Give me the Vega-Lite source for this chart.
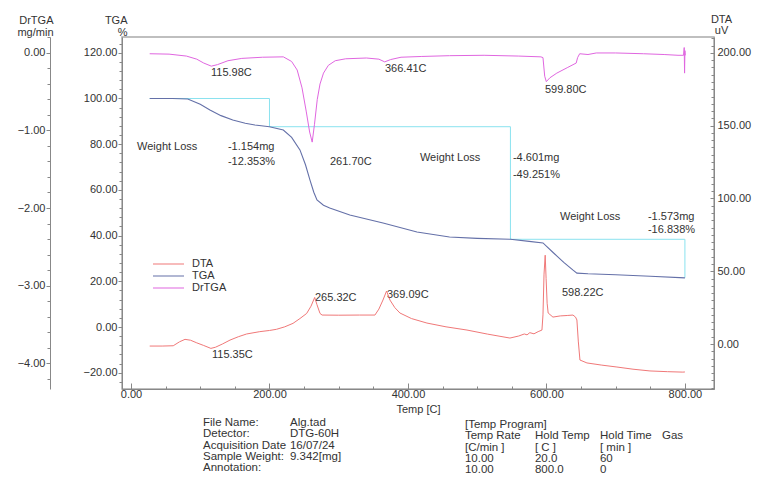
{
  "$schema": "https://vega.github.io/schema/vega-lite/v6.json",
  "width": 592,
  "height": 352,
  "autosize": {"type": "none"},
  "padding": {"left": 122, "top": 37, "right": 44, "bottom": 89},
  "background": "white",
  "config": {
    "font": "Liberation Sans",
    "view": {"stroke": "#aaaaaa", "strokeWidth": 1.5},
    "axis": {"grid": false, "domainColor": "#888888", "tickColor": "#888888", "labelColor": "#333333", "labelFontSize": 11, "labelFont": "Liberation Sans", "titleFont": "Liberation Sans", "titleFontSize": 11, "titleFontWeight": "normal", "titleColor": "#333333"},
    "text": {"font": "Liberation Sans"}
  },
  "datasets": {
    "tga": [
      {"t":27,"p":100},{"t":60,"p":100},{"t":82,"p":99.8},{"t":100,"p":97.5},{"t":114,"p":95},{"t":130,"p":92.5},{"t":147,"p":90.6},{"t":165,"p":89.2},{"t":179,"p":88.4},{"t":200,"p":87.6},{"t":220,"p":86.2},{"t":232,"p":83},{"t":244,"p":77.5},{"t":252,"p":71},{"t":258.5,"p":64.3},{"t":264,"p":59},{"t":268.6,"p":55.6},{"t":278,"p":53.3},{"t":287,"p":52.1},{"t":316,"p":49},{"t":364,"p":45.5},{"t":413,"p":41.6},{"t":460,"p":39.4},{"t":500,"p":38.8},{"t":548,"p":38.4},{"t":575,"p":37.5},{"t":595,"p":36.8},{"t":610,"p":32.5},{"t":625,"p":28.3},{"t":638,"p":25},{"t":644,"p":23.6},{"t":660,"p":23.3},{"t":700,"p":22.9},{"t":750,"p":22.2},{"t":800,"p":21.5}
    ],
    "steps": [
      {"seq":1,"t":27,"p":100},{"seq":2,"t":200,"p":100},{"seq":3,"t":200,"p":87.65},{"seq":4,"t":548,"p":87.65},{"seq":5,"t":548,"p":38.4},{"seq":6,"t":800,"p":38.4},{"seq":7,"t":800,"p":21.56}
    ],
    "dta": [
      {"t":27,"v":-1.4},{"t":45,"v":-1.4},{"t":61,"v":-1.2},{"t":70,"v":1.5},{"t":78,"v":3.2},{"t":86,"v":2.6},{"t":95,"v":0.8},{"t":105,"v":-1},{"t":115.35,"v":-3},{"t":122,"v":-2.2},{"t":132,"v":0},{"t":143,"v":2.7},{"t":155,"v":5},{"t":167,"v":6.9},{"t":186,"v":8.5},{"t":200,"v":9.3},{"t":210,"v":10.1},{"t":222,"v":11.8},{"t":234,"v":14.2},{"t":244,"v":17.5},{"t":253.7,"v":21},{"t":260,"v":26},{"t":265.3,"v":32},{"t":268.6,"v":27},{"t":273,"v":21},{"t":276,"v":19.9},{"t":300,"v":19.8},{"t":330,"v":19.9},{"t":352.3,"v":19.9},{"t":358,"v":24},{"t":363.9,"v":30.2},{"t":369.1,"v":36.4},{"t":374,"v":30.2},{"t":381,"v":25},{"t":388.4,"v":21.3},{"t":405,"v":17.5},{"t":427.4,"v":14.4},{"t":455,"v":11.8},{"t":485.2,"v":9.6},{"t":515,"v":6.8},{"t":547.3,"v":4.1},{"t":560,"v":5.5},{"t":568,"v":6.9},{"t":572,"v":6.3},{"t":576,"v":7.8},{"t":582,"v":7},{"t":588,"v":8.5},{"t":593.5,"v":9.6},{"t":595,"v":20},{"t":596.5,"v":48},{"t":598.2,"v":61},{"t":599.5,"v":45},{"t":601,"v":28},{"t":602.5,"v":21.3},{"t":609.4,"v":18.5},{"t":620,"v":19.3},{"t":630,"v":19.6},{"t":638.3,"v":19.9},{"t":642,"v":18.5},{"t":644,"v":16.5},{"t":646,"v":2},{"t":648.4,"v":-11},{"t":658.5,"v":-13},{"t":680,"v":-14.5},{"t":701.8,"v":-15.8},{"t":725,"v":-17.3},{"t":749.5,"v":-18.5},{"t":775,"v":-19},{"t":797,"v":-19.3},{"t":800,"v":-19.2}
    ],
    "drtga": [
      {"t":27,"v":-0.01},{"t":55,"v":-0.015},{"t":80,"v":-0.04},{"t":95,"v":-0.08},{"t":105,"v":-0.13},{"t":116,"v":-0.17},{"t":125,"v":-0.15},{"t":140,"v":-0.1},{"t":160,"v":-0.07},{"t":190,"v":-0.055},{"t":220,"v":-0.05},{"t":232,"v":-0.11},{"t":240,"v":-0.22},{"t":247,"v":-0.45},{"t":253,"v":-0.75},{"t":258,"v":-1.02},{"t":261.7,"v":-1.15},{"t":265,"v":-0.92},{"t":269,"v":-0.6},{"t":273,"v":-0.4},{"t":278,"v":-0.26},{"t":285,"v":-0.16},{"t":295,"v":-0.1},{"t":310,"v":-0.075},{"t":340,"v":-0.065},{"t":358,"v":-0.08},{"t":366.4,"v":-0.115},{"t":375,"v":-0.085},{"t":390,"v":-0.055},{"t":420,"v":-0.045},{"t":460,"v":-0.035},{"t":510,"v":-0.03},{"t":560,"v":-0.04},{"t":592,"v":-0.05},{"t":595,"v":-0.06},{"t":597.5,"v":-0.3},{"t":599.8,"v":-0.37},{"t":605,"v":-0.32},{"t":615,"v":-0.26},{"t":630,"v":-0.19},{"t":643,"v":-0.13},{"t":645,"v":-0.06},{"t":648,"v":-0.01},{"t":660,"v":-0.02},{"t":672,"v":0.0},{"t":700,"v":0},{"t":740,"v":-0.01},{"t":770,"v":-0.02},{"t":790,"v":-0.03},{"t":798,"v":-0.03},{"t":799,"v":0.07},{"t":799.5,"v":-0.26},{"t":800,"v":0.03},{"t":800.5,"v":-0.03}
    ],
    "notes": [
      {"label":"115.98C","t":115.5,"p":111.2},
      {"label":"366.41C","t":366.8,"p":112.9},
      {"label":"599.80C","t":597.8,"p":103.7},
      {"label":"Weight Loss","t":8.7,"p":78.8},
      {"label":"-1.154mg","t":140,"p":78.8},
      {"label":"-12.353%","t":140,"p":72.2},
      {"label":"261.70C","t":287.4,"p":72.2},
      {"label":"Weight Loss","t":417.3,"p":74},
      {"label":"-4.601mg","t":551.6,"p":74},
      {"label":"-49.251%","t":551.6,"p":66.6},
      {"label":"Weight Loss","t":619.5,"p":48.1},
      {"label":"-1.573mg","t":746.6,"p":48.1},
      {"label":"-16.838%","t":746.6,"p":42.3},
      {"label":"598.22C","t":622.4,"p":14.9},
      {"label":"265.32C","t":265.7,"p":12.7},
      {"label":"369.09C","t":369.7,"p":14},
      {"label":"115.35C","t":117,"p":-12.3}
    ],
    "footer": [
      {"t":104,"p":-39.4,"lines":["File Name:","Detector:","Acquisition Date","Sample Weight:","Annotation:"]},
      {"t":229.6,"p":-39.4,"lines":["Alg.tad","DTG-60H","16/07/24","9.342[mg]",""]},
      {"t":482.3,"p":-40.3,"lines":["[Temp Program]","Temp Rate","[C/min ]","10.00","10.00"]},
      {"t":583.4,"p":-40.3,"lines":["","Hold Temp","[ C ]","20.0","800.0"]},
      {"t":677.3,"p":-40.3,"lines":["","Hold Time","[ min ]","60","0"]},
      {"t":766.8,"p":-40.3,"lines":["","Gas","","",""]}
    ]
  },
  "encoding": {
    "x": {
      "field": "t", "type": "quantitative",
      "scale": {"domain": [-13, 842], "nice": false, "zero": false},
      "axis": {
        "orient": "bottom",
        "values": [0,50,100,150,200,250,300,350,400,450,500,550,600,650,700,750,800],
        "labelExpr": "datum.value % 200 === 0 ? format(datum.value, '.2f') : ''",
        "tickSize": {"condition": {"test": "datum.value % 200 === 0", "value": -6}, "value": -3},
        "labelPadding": 5,
        "labelFlush": false,
        "title": "Temp [C]",
        "titleY": 23,
        "titleBaseline": "alphabetic"
      }
    }
  },
  "layer": [
    {
      "encoding": {
        "y": {
          "field": "p", "type": "quantitative",
          "scale": {"domain": [-27.1, 126.9], "nice": false, "zero": false},
          "axis": {
            "orient": "left",
            "values": [-24,-20,-16,-12,-8,-4,0,4,8,12,16,20,24,28,32,36,40,44,48,52,56,60,64,68,72,76,80,84,88,92,96,100,104,108,112,116,120,124],
            "labelExpr": "datum.value % 20 === 0 ? format(datum.value, '.2f') : ''",
            "tickSize": {"condition": {"test": "datum.value % 20 === 0", "value": 4}, "value": 3},
            "labelPadding": 1,
            "labelFlush": false,
            "title": ["TGA", "%"],
            "titleAngle": 0,
            "titleAlign": "right",
            "titleBaseline": "alphabetic",
            "titleX": 5,
            "titleY": -14,
            "titleLineHeight": 12
          }
        }
      },
      "layer": [
        {
          "data": {"name": "steps"},
          "mark": {"type": "line", "color": "#8ae2ef", "strokeWidth": 1},
          "encoding": {"order": {"field": "seq", "type": "quantitative"}}
        },
        {
          "data": {"name": "tga"},
          "mark": {"type": "line", "strokeWidth": 1.1},
          "encoding": {
            "color": {
              "datum": "TGA",
              "scale": {"domain": ["DTA", "TGA", "DrTGA"], "range": ["#f07878", "#6470a8", "#e066e0"]},
              "legend": {"orient": "none", "legendX": 30, "legendY": 221.5, "title": null, "symbolType": "stroke", "symbolSize": 961, "symbolStrokeWidth": 1.2, "labelFontSize": 11, "labelColor": "#333333", "labelOffset": 7, "clipHeight": 11, "rowPadding": 0, "padding": 0}
            }
          }
        },
        {
          "data": {"name": "notes"},
          "mark": {"type": "text", "align": "left", "baseline": "middle", "fontSize": 11, "color": "#333333"},
          "encoding": {"text": {"field": "label", "type": "nominal"}}
        },
        {
          "data": {"name": "footer"},
          "mark": {"type": "text", "align": "left", "baseline": "top", "fontSize": 11.5, "lineHeight": 11.3, "color": "#333333"},
          "encoding": {"text": {"field": "lines", "type": "nominal"}}
        }
      ]
    },
    {
      "data": {"name": "dta"},
      "mark": {"type": "line", "strokeWidth": 1},
      "encoding": {
        "y": {
          "field": "v", "type": "quantitative",
          "scale": {"domain": [-30.9, 210.9], "nice": false, "zero": false},
          "axis": {
            "orient": "right",
            "values": [-30,-25,-20,-15,-10,-5,0,5,10,15,20,25,30,35,40,45,50,55,60,65,70,75,80,85,90,95,100,105,110,115,120,125,130,135,140,145,150,155,160,165,170,175,180,185,190,195,200,205,210],
            "labelExpr": "datum.value % 50 === 0 ? format(datum.value, '.2f') : ''",
            "tickSize": {"condition": {"test": "datum.value % 50 === 0", "value": -4}, "value": -3},
            "labelPadding": 7,
            "labelFlush": false,
            "title": ["DTA", "uV"],
            "titleAngle": 0,
            "titleAlign": "center",
            "titleBaseline": "alphabetic",
            "titleX": 7,
            "titleY": -15,
            "titleLineHeight": 11
          }
        },
        "color": {"datum": "DTA"}
      }
    },
    {
      "data": {"name": "drtga"},
      "mark": {"type": "line", "strokeWidth": 1},
      "encoding": {
        "y": {
          "field": "v", "type": "quantitative",
          "scale": {"domain": [-4.335, 0.206], "nice": false, "zero": false},
          "axis": {
            "orient": "left",
            "offset": 72,
            "values": [-4.2,-4.0,-3.8,-3.6,-3.4,-3.2,-3.0,-2.8,-2.6,-2.4,-2.2,-2.0,-1.8,-1.6,-1.4,-1.2,-1.0,-0.8,-0.6,-0.4,-0.2,0,0.2],
            "labelExpr": "abs(datum.value - round(datum.value)) < 0.001 ? format(datum.value, '.2f') : ''",
            "tickSize": {"condition": {"test": "abs(datum.value - round(datum.value)) < 0.001", "value": 4}, "value": 3},
            "labelPadding": 1,
            "labelFlush": false,
            "title": ["DrTGA", "mg/min"],
            "titleAngle": 0,
            "titleAlign": "right",
            "titleBaseline": "alphabetic",
            "titleX": 3,
            "titleY": -14,
            "titleLineHeight": 12
          }
        },
        "color": {"datum": "DrTGA"}
      }
    }
  ],
  "resolve": {"scale": {"y": "independent"}}
}
